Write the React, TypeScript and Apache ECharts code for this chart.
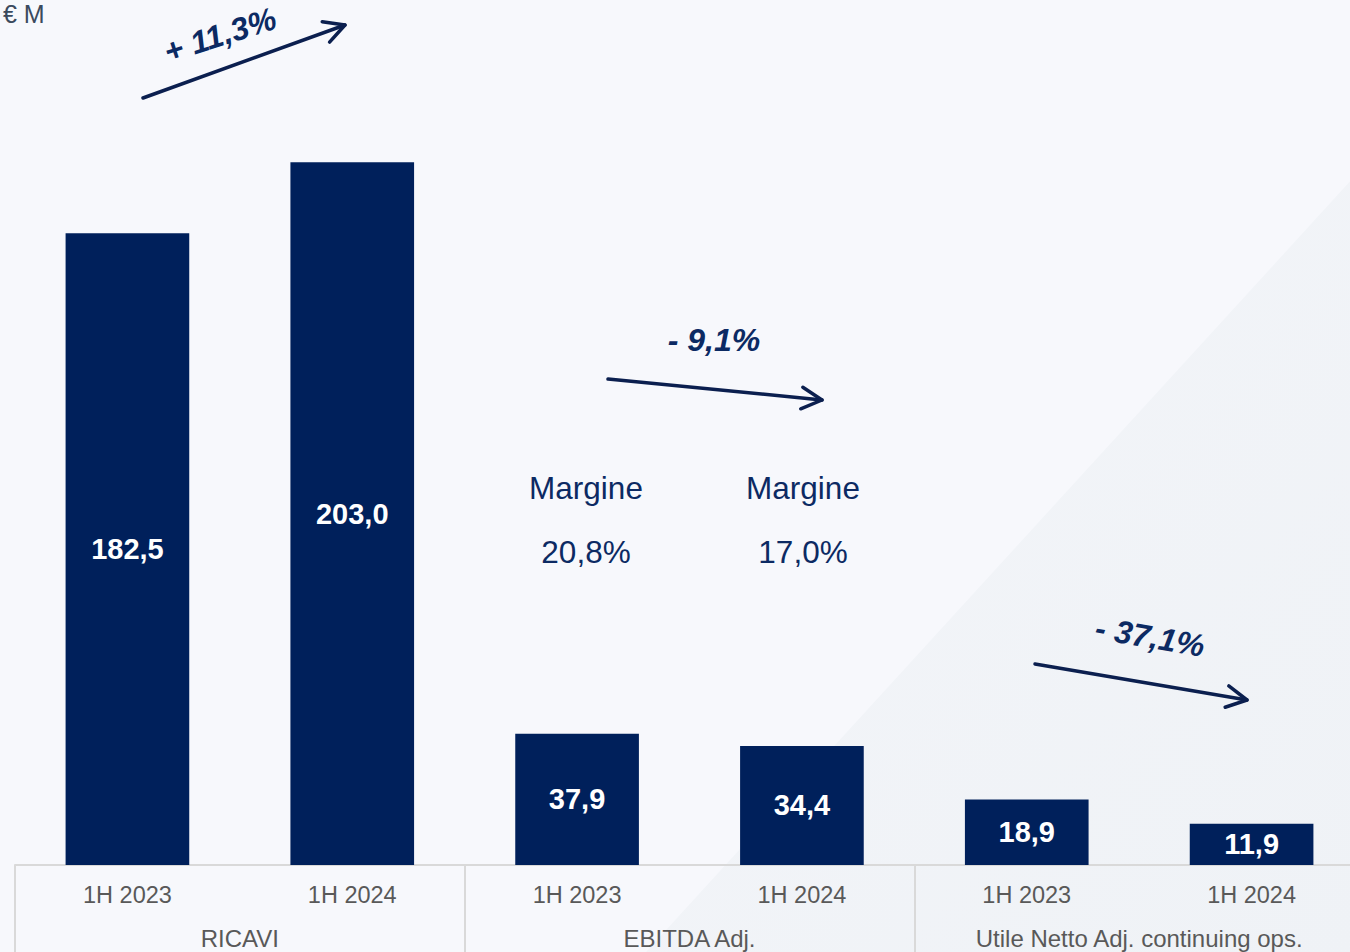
import React, { useEffect, useRef } from "react";
import * as echarts from "echarts";

const periods = ["1H 2023", "1H 2024", "1H 2023", "1H 2024", "1H 2023", "1H 2024"];
const groups = ["RICAVI", "EBITDA Adj.", "Utile Netto Adj. continuing ops."];
const values = [182.5, 203.0, 37.9, 34.4, 18.9, 11.9];
const changeLabels = ["+ 11,3%", "- 9,1%", "- 37,1%"];
const marginLabels = ["20,8%", "17,0%"];
const unitLabel = "€ M";

const NAVY = "#00205b";
const TEXT_NAVY = "#0c2a63";
const ARROW = "#0b1f4f";
const GRAY = "#595959";
const FONT = "Liberation Sans, Arial, sans-serif";

function arrow(x1: number, y1: number, x2: number, y2: number) {
  const ang = Math.atan2(y2 - y1, x2 - x1);
  const len = 23;
  const spread = (28 * Math.PI) / 180;
  const w1 = [x2 - len * Math.cos(ang - spread), y2 - len * Math.sin(ang - spread)];
  const w2 = [x2 - len * Math.cos(ang + spread), y2 - len * Math.sin(ang + spread)];
  const style = { stroke: ARROW, lineWidth: 3.5, fill: null, lineCap: "round", lineJoin: "round" };
  return [
    { type: "line", shape: { x1, y1, x2, y2 }, style, z: 10 },
    { type: "polyline", shape: { points: [w1, [x2, y2], w2] }, style, z: 10 },
  ];
}

function fmt(v: number) {
  return v.toFixed(1).replace(".", ",");
}

export default function App() {
  const ref = useRef<HTMLDivElement>(null);
  useEffect(() => {
    if (!ref.current) return;
    const chart = echarts.init(ref.current, null, { renderer: "svg" });
    const pctStyle = (text: string) => ({
      text,
      fill: TEXT_NAVY,
      font: `italic bold 32px ${FONT}`,
      align: "center",
      verticalAlign: "middle",
    });
    const plain = (text: string) => ({
      text,
      fill: TEXT_NAVY,
      font: `31.5px ${FONT}`,
      align: "center",
      verticalAlign: "middle",
    });
    const option: any = {
      animation: false,
      backgroundColor: "#f7f8fc",
      grid: { left: 15, top: 15, bottom: 87, right: 0 },
      xAxis: [
        {
          type: "category",
          data: periods,
          position: "bottom",
          axisLine: { show: true, lineStyle: { color: "#d9d9d9", width: 2 } },
          axisTick: { show: false },
          axisLabel: { color: GRAY, fontSize: 23.5, fontFamily: FONT, margin: 18 },
        },
        {
          type: "category",
          data: groups,
          position: "bottom",
          axisLine: { show: false },
          axisTick: { show: true, length: 90, lineStyle: { color: "#d9d9d9", width: 2 } },
          axisLabel: { color: GRAY, fontSize: 24, fontFamily: FONT, margin: 61, interval: 0 },
        },
      ],
      yAxis: { type: "value", min: 0, max: 245.5, show: false, splitLine: { show: false } },
      series: [
        {
          type: "bar",
          xAxisIndex: 0,
          data: values,
          barWidth: "55%",
          itemStyle: { color: NAVY },
          label: {
            show: true,
            position: "inside",
            color: "#ffffff",
            fontWeight: "bold",
            fontSize: 29,
            fontFamily: FONT,
            formatter: (p: any) => fmt(p.value),
          },
        },
      ],
      graphic: [
        {
          type: "polygon",
          shape: { points: [[646, 952], [1364, 166], [1364, 952]] },
          style: {
            fill: new echarts.graphic.LinearGradient(0, 0, 1, 1, [
              { offset: 0, color: "#f3f5f9" },
              { offset: 1, color: "#eff2f6" },
            ]),
          },
          z: -10,
          silent: true,
        },
        {
          type: "text",
          left: 3,
          top: 1,
          style: { text: unitLabel, fill: "#3b4a5e", font: `25px ${FONT}` },
        },
        ...arrow(143, 98, 345, 25),
        ...arrow(608, 379, 822, 400),
        ...arrow(1035, 664, 1247, 700),
        { type: "text", x: 220, y: 35, rotation: 0.31, style: pctStyle(changeLabels[0]), z: 10 },
        { type: "text", x: 714, y: 340, style: pctStyle(changeLabels[1]), z: 10 },
        { type: "text", x: 1150, y: 637, rotation: -0.17, style: pctStyle(changeLabels[2]), z: 10 },
        { type: "text", x: 586, y: 488, style: plain("Margine") },
        { type: "text", x: 586, y: 552, style: plain(marginLabels[0]) },
        { type: "text", x: 803, y: 488, style: plain("Margine") },
        { type: "text", x: 803, y: 552, style: plain(marginLabels[1]) },
      ],
    };
    chart.setOption(option);
    return () => chart.dispose();
  }, []);
  return (
    <div
      ref={ref}
      style={{ position: "fixed", left: 0, top: 0, width: 1364, height: 952 }}
    />
  );
}
